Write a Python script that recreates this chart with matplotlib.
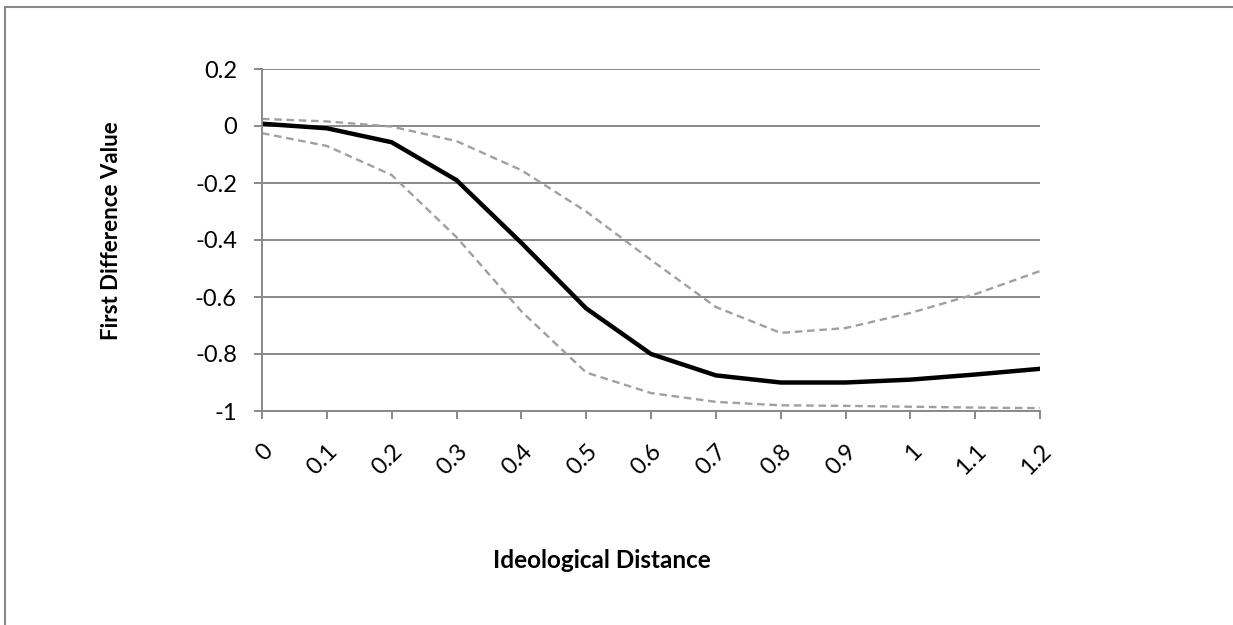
import matplotlib.pyplot as plt
from matplotlib.patches import Rectangle

# data
distance = [0, 0.1, 0.2, 0.3, 0.4, 0.5, 0.6, 0.7, 0.8, 0.9, 1.0, 1.1, 1.2]
tick_labels = ['0', '0.1', '0.2', '0.3', '0.4', '0.5', '0.6', '0.7', '0.8', '0.9', '1', '1.1', '1.2']
first_diff = [0.008, -0.008, -0.057, -0.19, -0.41, -0.64, -0.80, -0.875, -0.90, -0.90, -0.89, -0.872, -0.852]
upper_ci = [0.025, 0.016, -0.002, -0.053, -0.155, -0.30, -0.47, -0.635, -0.726, -0.709, -0.656, -0.59, -0.509]
lower_ci = [-0.025, -0.07, -0.172, -0.39, -0.65, -0.865, -0.937, -0.968, -0.98, -0.982, -0.985, -0.988, -0.99]

plt.rcParams['font.family'] = ['Lato', 'DejaVu Sans']
grey = '#898989'

fig = plt.figure(figsize=(12.33, 6.25), dpi=100)
ax = fig.add_axes([262 / 1233, 1 - 411 / 625, (1040 - 262) / 1233, (411 - 69) / 625])

ax.plot(distance, upper_ci, color='#a0a0a0', lw=1.7, dashes=(3.2, 2.0))
ax.plot(distance, lower_ci, color='#a0a0a0', lw=1.7, dashes=(3.2, 2.0))
ax.plot(distance, first_diff, color='black', lw=3.2, solid_joinstyle='miter')

ax.set_xlim(0, 1.2)
ax.set_ylim(-1, 0.2)
ax.set_yticks([0.2, 0, -0.2, -0.4, -0.6, -0.8, -1])
ax.set_yticklabels(['0.2', '0', '-0.2', '-0.4', '-0.6', '-0.8', '-1'], fontsize=17)
ax.set_xticks(distance)
ax.set_xticklabels(tick_labels, fontsize=17, rotation=45, ha='right', va='top',
                   rotation_mode='anchor')

ax.yaxis.grid(True, color=grey, lw=1.4)
ax.set_axisbelow(True)
for side in ['top', 'right']:
    ax.spines[side].set_visible(False)
for side in ['left', 'bottom']:
    ax.spines[side].set_color(grey)
    ax.spines[side].set_linewidth(1.4)
ax.tick_params(axis='y', length=6, width=1.4, color=grey, pad=12)
ax.tick_params(axis='x', length=6, width=1.4, color=grey, pad=15)

fig.text(111 / 1233, 1 - 231 / 625, 'First Difference Value', fontsize=16,
         fontweight='bold', rotation=90, ha='center', va='center')
fig.text(602 / 1233, 1 - 561 / 625, 'Ideological Distance', fontsize=17.5,
         fontweight='bold', ha='center', va='center')

# outer frame of the embedded chart
fig.patches.append(Rectangle((5 / 1233, -0.1), 1.2, 1 - 7 / 625 + 0.1,
                             transform=fig.transFigure, fill=False,
                             edgecolor='#888888', lw=1.5))

fig.savefig('out.png', dpi=100)
